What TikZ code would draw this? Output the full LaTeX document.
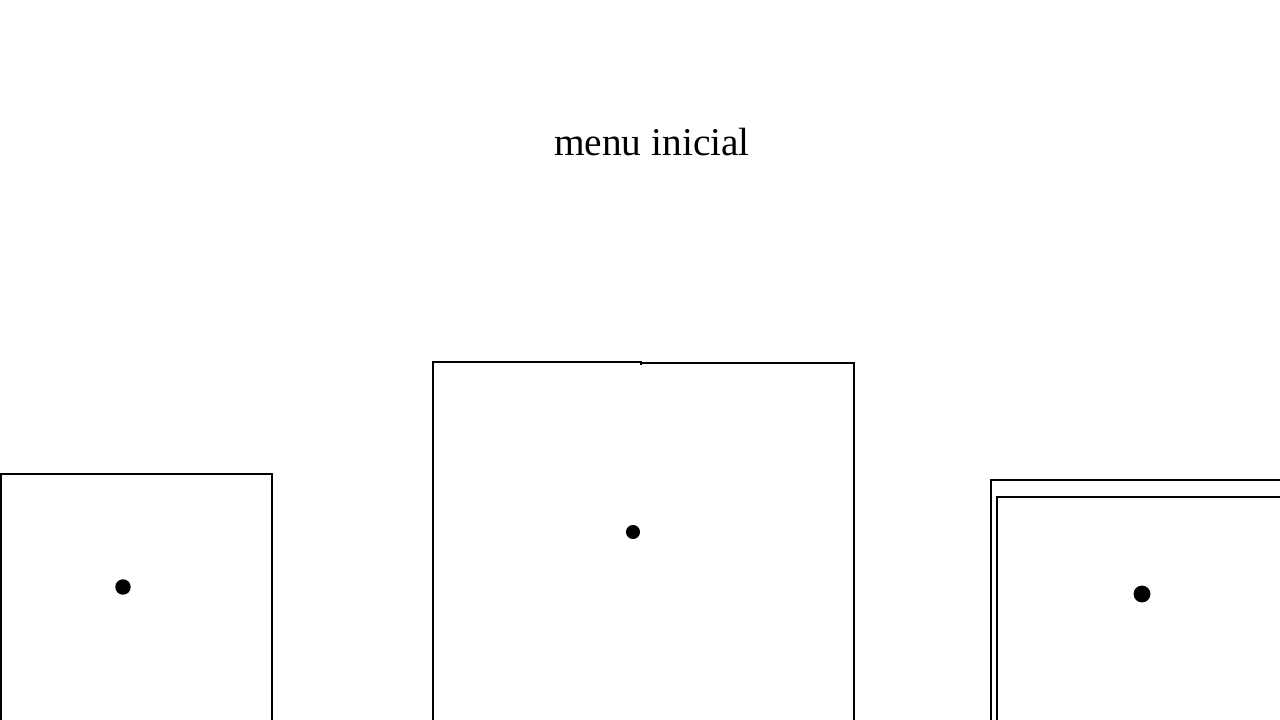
\documentclass[tikz,border=0pt]{standalone}
\usepackage{fontspec}
\setmainfont{Liberation Serif}
\usetikzlibrary{positioning}

\begin{document}
\begin{tikzpicture}[
    x=0.025cm, y=-0.025cm,
    frame/.style={draw=black, line width=1.4pt},
    blob/.style={circle, fill=black, inner sep=0pt},
    title/.style={font=\fontsize{28}{32}\selectfont, inner sep=0pt}
]
\useasboundingbox (0,0) rectangle (1280,720);
\node (heading) [title] at (652,142) {menu inicial};

% left screen
\draw [frame] (1,720) -- (1,474) -- (272,474) -- (272,720);
\node (dotleft) [blob, minimum size=11pt] at (123,587) {};

% middle screen
\draw [frame] (433,720) -- (433,362) -- (641,362) -- (641,365);
\draw [frame] (641,363) -- (854,363) -- (854,720);
\node (dotmid) [blob, minimum size=10pt] at (633,532) {};

% right screen
\draw [frame] (991,720) -- (991,480) -- (1280,480);
\draw [frame] (997,720) -- (997,497) -- (1280,497);
\node (dotright) [blob, minimum size=12pt] at (1142,594) {};
\end{tikzpicture}
\end{document}
